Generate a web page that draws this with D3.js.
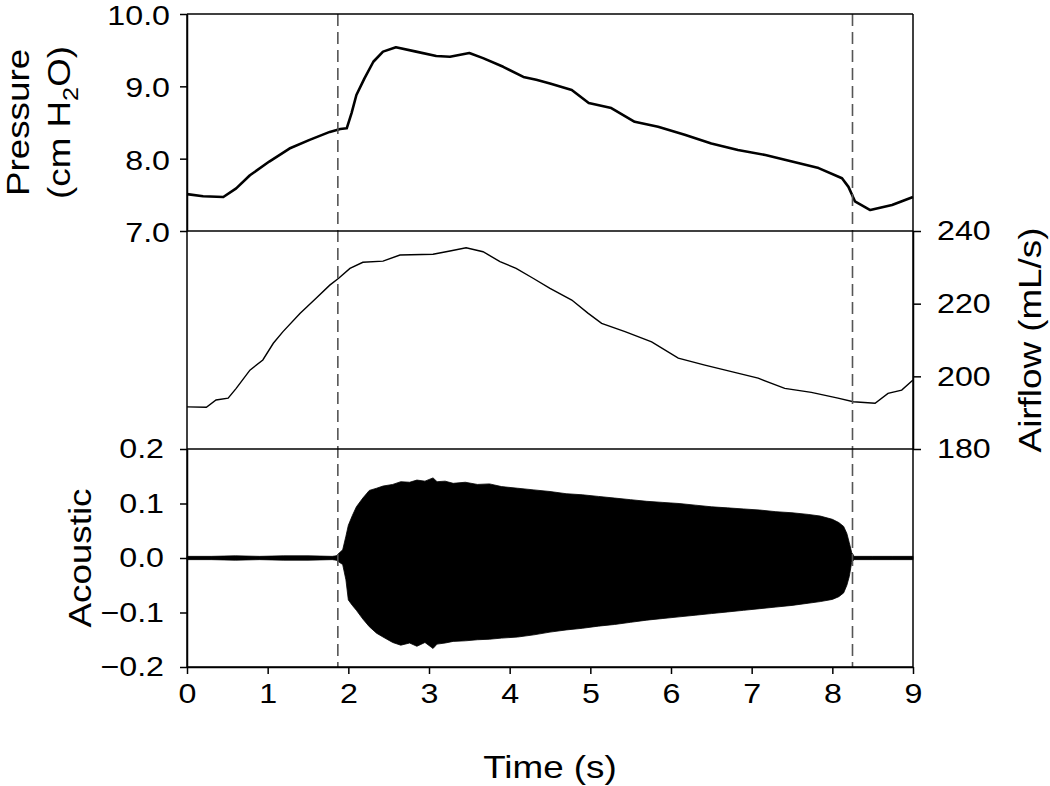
<!DOCTYPE html>
<html>
<head>
<meta charset="utf-8">
<script src="https://cdn.jsdelivr.net/npm/d3@7"></script>
<style>
  body { margin: 0; background: #fff; }
  svg { display: block; font-family: "Liberation Sans", Arial, sans-serif; }
  .axis path, .axis line { stroke: #000; stroke-width: 1.5px; }
  .axis text { font-size: 28px; fill: #000; }
  .title { font-size: 32px; fill: #000; }
</style>
</head>
<body>
<svg width="1050" height="786"></svg>
<script>
// time ticks
let timeTicks = [0, 1, 2, 3, 4, 5, 6, 7, 8, 9];
let pressTicks = [7, 8, 9, 10];
let flowTicks = [180, 200, 220, 240];
let acTicks = [-0.2, -0.1, 0, 0.1, 0.2];

// onset / offset markers (s)
let markers = [1.87, 8.25];

// pressure trace (cm H2O)
let pressTime = [0, 0.2, 0.45, 0.61, 0.78, 1.02, 1.27, 1.52, 1.77, 1.9, 1.98, 2.04, 2.10, 2.20, 2.31, 2.43, 2.59, 2.84, 3.09, 3.26, 3.50, 3.67, 3.92, 4.17, 4.33, 4.50, 4.77, 4.98, 5.26, 5.55, 5.84, 6.17, 6.50, 6.83, 7.17, 7.50, 7.83, 8.12, 8.20, 8.28, 8.47, 8.74, 9.0];
let pressVal = [7.51, 7.48, 7.47, 7.59, 7.77, 7.96, 8.14, 8.26, 8.37, 8.41, 8.42, 8.63, 8.88, 9.11, 9.34, 9.48, 9.54, 9.48, 9.42, 9.41, 9.46, 9.39, 9.27, 9.13, 9.09, 9.04, 8.95, 8.77, 8.70, 8.51, 8.44, 8.33, 8.21, 8.12, 8.05, 7.96, 7.87, 7.73, 7.61, 7.41, 7.29, 7.36, 7.47];

// airflow trace (mL/s)
let flowTime = [0, 0.24, 0.36, 0.51, 0.61, 0.78, 0.94, 1.07, 1.19, 1.40, 1.60, 1.77, 1.88, 2.02, 2.18, 2.43, 2.64, 3.05, 3.26, 3.46, 3.67, 3.88, 4.08, 4.29, 4.50, 4.77, 4.97, 5.14, 5.43, 5.76, 6.09, 6.42, 6.75, 7.08, 7.41, 7.74, 8.07, 8.26, 8.53, 8.69, 8.86, 9.0];
let flowVal = [191.6, 191.5, 193.5, 194.0, 196.7, 201.7, 204.5, 209.1, 212.3, 217.3, 221.5, 225.1, 227.0, 229.7, 231.4, 231.7, 233.4, 233.6, 234.5, 235.4, 234.3, 231.6, 229.7, 227.0, 224.2, 221.0, 217.4, 214.6, 212.3, 209.5, 205.0, 203.1, 201.3, 199.5, 196.7, 195.6, 194.0, 193.0, 192.6, 195.3, 196.2, 199.0];

// acoustic envelope (upper / lower)
let acTime = [0, 0.3, 0.6, 0.9, 1.2, 1.5, 1.8, 1.85, 1.93, 1.97, 2.0, 2.05, 2.1, 2.18, 2.26, 2.35, 2.43, 2.55, 2.65, 2.76, 2.85, 2.95, 3.05, 3.1, 3.2, 3.3, 3.45, 3.6, 3.75, 3.9, 4.1, 4.3, 4.5, 4.7, 4.9, 5.1, 5.3, 5.5, 5.7, 5.9, 6.1, 6.3, 6.5, 6.7, 6.9, 7.1, 7.3, 7.5, 7.7, 7.85, 8.0, 8.08, 8.14, 8.18, 8.21, 8.24, 8.27, 8.5, 8.75, 9.0];
let acUpper = [0.003, 0.003, 0.004, 0.003, 0.004, 0.004, 0.003, 0.004, 0.015, 0.04, 0.06, 0.078, 0.094, 0.11, 0.124, 0.128, 0.132, 0.135, 0.140, 0.139, 0.143, 0.141, 0.147, 0.140, 0.141, 0.137, 0.139, 0.135, 0.136, 0.131, 0.128, 0.125, 0.122, 0.118, 0.116, 0.113, 0.110, 0.107, 0.104, 0.102, 0.100, 0.097, 0.094, 0.092, 0.090, 0.088, 0.085, 0.083, 0.080, 0.077, 0.071, 0.065, 0.058, 0.045, 0.028, 0.010, 0.003, 0.003, 0.003, 0.003];
let acLower = [-0.003, -0.003, -0.004, -0.003, -0.004, -0.004, -0.003, -0.004, -0.012, -0.04, -0.077, -0.087, -0.096, -0.112, -0.126, -0.138, -0.145, -0.155, -0.160, -0.156, -0.162, -0.155, -0.166, -0.158, -0.156, -0.153, -0.152, -0.150, -0.149, -0.147, -0.145, -0.141, -0.136, -0.132, -0.129, -0.125, -0.122, -0.118, -0.114, -0.111, -0.108, -0.105, -0.102, -0.099, -0.096, -0.093, -0.090, -0.087, -0.083, -0.080, -0.076, -0.071, -0.064, -0.05, -0.034, -0.008, -0.003, -0.003, -0.003, -0.003];

let tickStretch = 1.15;
let titleStretch = 1.15;

let svg = d3.select('svg');

let x = d3.scaleLinear().domain([0, 9]).range([187, 913]);
let yP = d3.scaleLinear().domain([7, 10]).range([231, 14]);
let yF = d3.scaleLinear().domain([180, 240]).range([449, 231]);
let yA = d3.scaleLinear().domain([-0.2, 0.2]).range([667, 449]);

// widen the glyphs along the text direction, like the original figure
function stretchTicks(g, k) {
  g.selectAll('.tick text').each(function() {
    let t = d3.select(this);
    let tx = +t.attr('x') || 0;
    t.attr('x', tx / k).attr('transform', `scale(${k},1)`);
  });
}

// traces
let pressLine = d3.line().x((d, i) => x(pressTime[i])).y(d => yP(d));
svg.append('path')
  .attr('d', pressLine(pressVal))
  .style('fill', 'none')
  .style('stroke', '#000')
  .style('stroke-width', '2.6px')
  .style('stroke-linejoin', 'round');

let flowLine = d3.line().x((d, i) => x(flowTime[i])).y(d => yF(d));
svg.append('path')
  .attr('d', flowLine(flowVal))
  .style('fill', 'none')
  .style('stroke', '#000')
  .style('stroke-width', '1.4px');

let acArea = d3.area()
  .x((d, i) => x(acTime[i]))
  .y0((d, i) => yA(acLower[i]))
  .y1(d => yA(d));
svg.append('path')
  .attr('d', acArea(acUpper))
  .style('fill', '#000')
  .style('stroke', '#000')
  .style('stroke-width', '0.8px');

// dashed markers
svg.selectAll('line.marker')
  .data(markers)
  .enter()
  .append('line')
  .attr('class', 'marker')
  .attr('x1', d => x(d))
  .attr('x2', d => x(d))
  .attr('y1', yP(10))
  .attr('y2', yA(-0.2))
  .style('stroke', '#555')
  .style('stroke-width', '1.6px')
  .style('stroke-dasharray', '12,6');

// axes
svg.append('g')
  .attr('class', 'axis')
  .attr('transform', `translate(${x(0)},0)`)
  .call(d3.axisLeft(yP).tickValues(pressTicks).tickFormat(d3.format('.1f')).tickSize(7).tickSizeOuter(0).tickPadding(10))
  .call(stretchTicks, tickStretch)
  .selectAll('.tick text').attr('dy', '0.38em');

svg.append('g')
  .attr('class', 'axis')
  .attr('transform', `translate(${x(0)},0)`)
  .call(d3.axisLeft(yA).tickValues(acTicks).tickFormat(d3.format('.1f')).tickSize(7).tickSizeOuter(0).tickPadding(16))
  .call(stretchTicks, tickStretch);

svg.append('g')
  .attr('class', 'axis')
  .attr('transform', `translate(${x(9)},0)`)
  .call(d3.axisRight(yF).tickValues(flowTicks).tickSize(8).tickSizeOuter(0).tickPadding(16))
  .call(stretchTicks, tickStretch);

svg.append('g')
  .attr('class', 'axis')
  .attr('transform', `translate(0,${yA(-0.2)})`)
  .call(d3.axisBottom(x).tickValues(timeTicks).tickSize(7).tickSizeOuter(0).tickPadding(9))
  .call(stretchTicks, tickStretch);

// panel frame
let frameY = [yP(10), yP(7), yA(0.2), yA(-0.2)];
svg.selectAll('line.hframe')
  .data(frameY)
  .enter()
  .append('line')
  .attr('x1', x(0))
  .attr('x2', x(9))
  .attr('y1', d => d)
  .attr('y2', d => d)
  .style('stroke', '#000')
  .style('stroke-width', '1.5px');

svg.selectAll('line.vframe')
  .data([0, 9])
  .enter()
  .append('line')
  .attr('x1', d => x(d))
  .attr('x2', d => x(d))
  .attr('y1', yP(10))
  .attr('y2', yA(-0.2))
  .style('stroke', '#000')
  .style('stroke-width', '1.5px');

// titles
let pTitle = svg.append('text')
  .attr('class', 'title')
  .attr('transform', `translate(29,${(yP(7) + yP(10)) / 2}) rotate(-90) scale(${titleStretch},1)`)
  .attr('text-anchor', 'middle');
pTitle.append('tspan').attr('x', 0).attr('dy', 0).text('Pressure');
let l2 = pTitle.append('tspan').attr('x', 0).attr('dy', 41);
l2.append('tspan').text('(cm H');
l2.append('tspan').attr('font-size', '22px').attr('dy', 8).text('2');
l2.append('tspan').attr('dy', -8).text('O)');

svg.append('text')
  .attr('class', 'title')
  .attr('transform', `translate(91,${yA(0)}) rotate(-90) scale(${titleStretch},1)`)
  .attr('text-anchor', 'middle')
  .text('Acoustic');

svg.append('text')
  .attr('class', 'title')
  .attr('transform', `translate(1041,${(yF(180) + yF(240)) / 2}) rotate(-90) scale(${titleStretch},1)`)
  .attr('text-anchor', 'middle')
  .text('Airflow (mL/s)');

svg.append('text')
  .attr('class', 'title')
  .attr('transform', `translate(${(x(0) + x(9)) / 2},778) scale(${titleStretch},1)`)
  .attr('text-anchor', 'middle')
  .text('Time (s)');
</script>
</body>
</html>
